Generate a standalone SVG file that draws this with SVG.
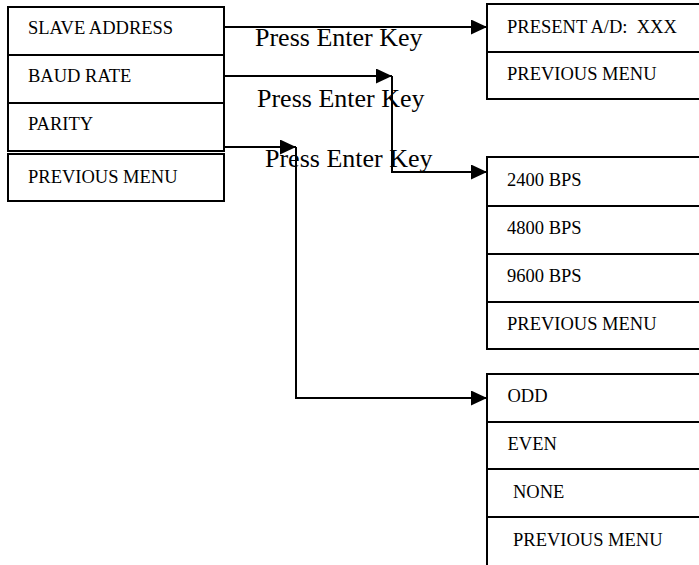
<svg xmlns="http://www.w3.org/2000/svg" width="699" height="565" viewBox="0 0 699 565">
<style>
.box{fill:#fff;stroke:#000;stroke-width:2}
.div{stroke:#000;stroke-width:2}
.t{font-family:"Liberation Serif","Times New Roman",serif;font-size:18.5px;fill:#000}
.lbl{font-family:"Liberation Serif","Times New Roman",serif;font-size:26px;fill:#000}
.c{fill:none;stroke:#000;stroke-width:2}
</style>
<defs>
<marker id="arr" markerUnits="userSpaceOnUse" markerWidth="17" markerHeight="16" refX="16" refY="7.5" orient="auto">
<path d="M0,0 L16,7.5 L0,15 z" fill="#000"/>
</marker>
</defs>
<rect width="699" height="565" fill="#fff"/>
<g id="main-menu">
<rect class="box" x="8" y="7" width="216" height="144"/>
<line class="div" x1="8" y1="55" x2="224" y2="55"/>
<line class="div" x1="8" y1="103" x2="224" y2="103"/>
<text class="t" x="28" y="34">SLAVE ADDRESS</text>
<text class="t" x="28" y="82">BAUD RATE</text>
<text class="t" x="28" y="130">PARITY</text>
</g>
<g id="main-previous">
<rect class="box" x="8" y="154" width="216" height="47"/>
<text class="t" x="28" y="183">PREVIOUS MENU</text>
</g>
<g id="address-menu">
<rect class="box" x="487" y="4" width="220" height="95"/>
<line class="div" x1="487" y1="52" x2="707" y2="52"/>
<text class="t" x="507" y="33" xml:space="preserve" style="white-space:pre">PRESENT A/D:  XXX</text>
<text class="t" x="507" y="80">PREVIOUS MENU</text>
</g>
<g id="baud-menu">
<rect class="box" x="487" y="157" width="220" height="192"/>
<line class="div" x1="487" y1="206" x2="707" y2="206"/>
<line class="div" x1="487" y1="254" x2="707" y2="254"/>
<line class="div" x1="487" y1="302" x2="707" y2="302"/>
<text class="t" x="507" y="186">2400 BPS</text>
<text class="t" x="507" y="234">4800 BPS</text>
<text class="t" x="507" y="282">9600 BPS</text>
<text class="t" x="507" y="330">PREVIOUS MENU</text>
</g>
<g id="parity-menu">
<rect class="box" x="487" y="374" width="220" height="200"/>
<line class="div" x1="487" y1="422" x2="707" y2="422"/>
<line class="div" x1="487" y1="469" x2="707" y2="469"/>
<line class="div" x1="487" y1="517" x2="707" y2="517"/>
<text class="t" x="507.5" y="402">ODD</text>
<text class="t" x="507.5" y="450">EVEN</text>
<text class="t" x="513" y="498">NONE</text>
<text class="t" x="513" y="546">PREVIOUS MENU</text>
</g>
<g id="connectors">
<text class="lbl" x="255" y="46">Press Enter Key</text>
<text class="lbl" x="257" y="107">Press Enter Key</text>
<text class="lbl" x="265" y="167">Press Enter Key</text>
<path class="c" d="M224,27 H487" marker-end="url(#arr)"/>
<path class="c" d="M224,76 H392" marker-end="url(#arr)"/>
<path class="c" d="M392,76 V172 H487" marker-end="url(#arr)"/>
<path class="c" d="M224,147 H296" marker-end="url(#arr)"/>
<path class="c" d="M296,147 V398 H487" marker-end="url(#arr)"/>
</g>
</svg>
